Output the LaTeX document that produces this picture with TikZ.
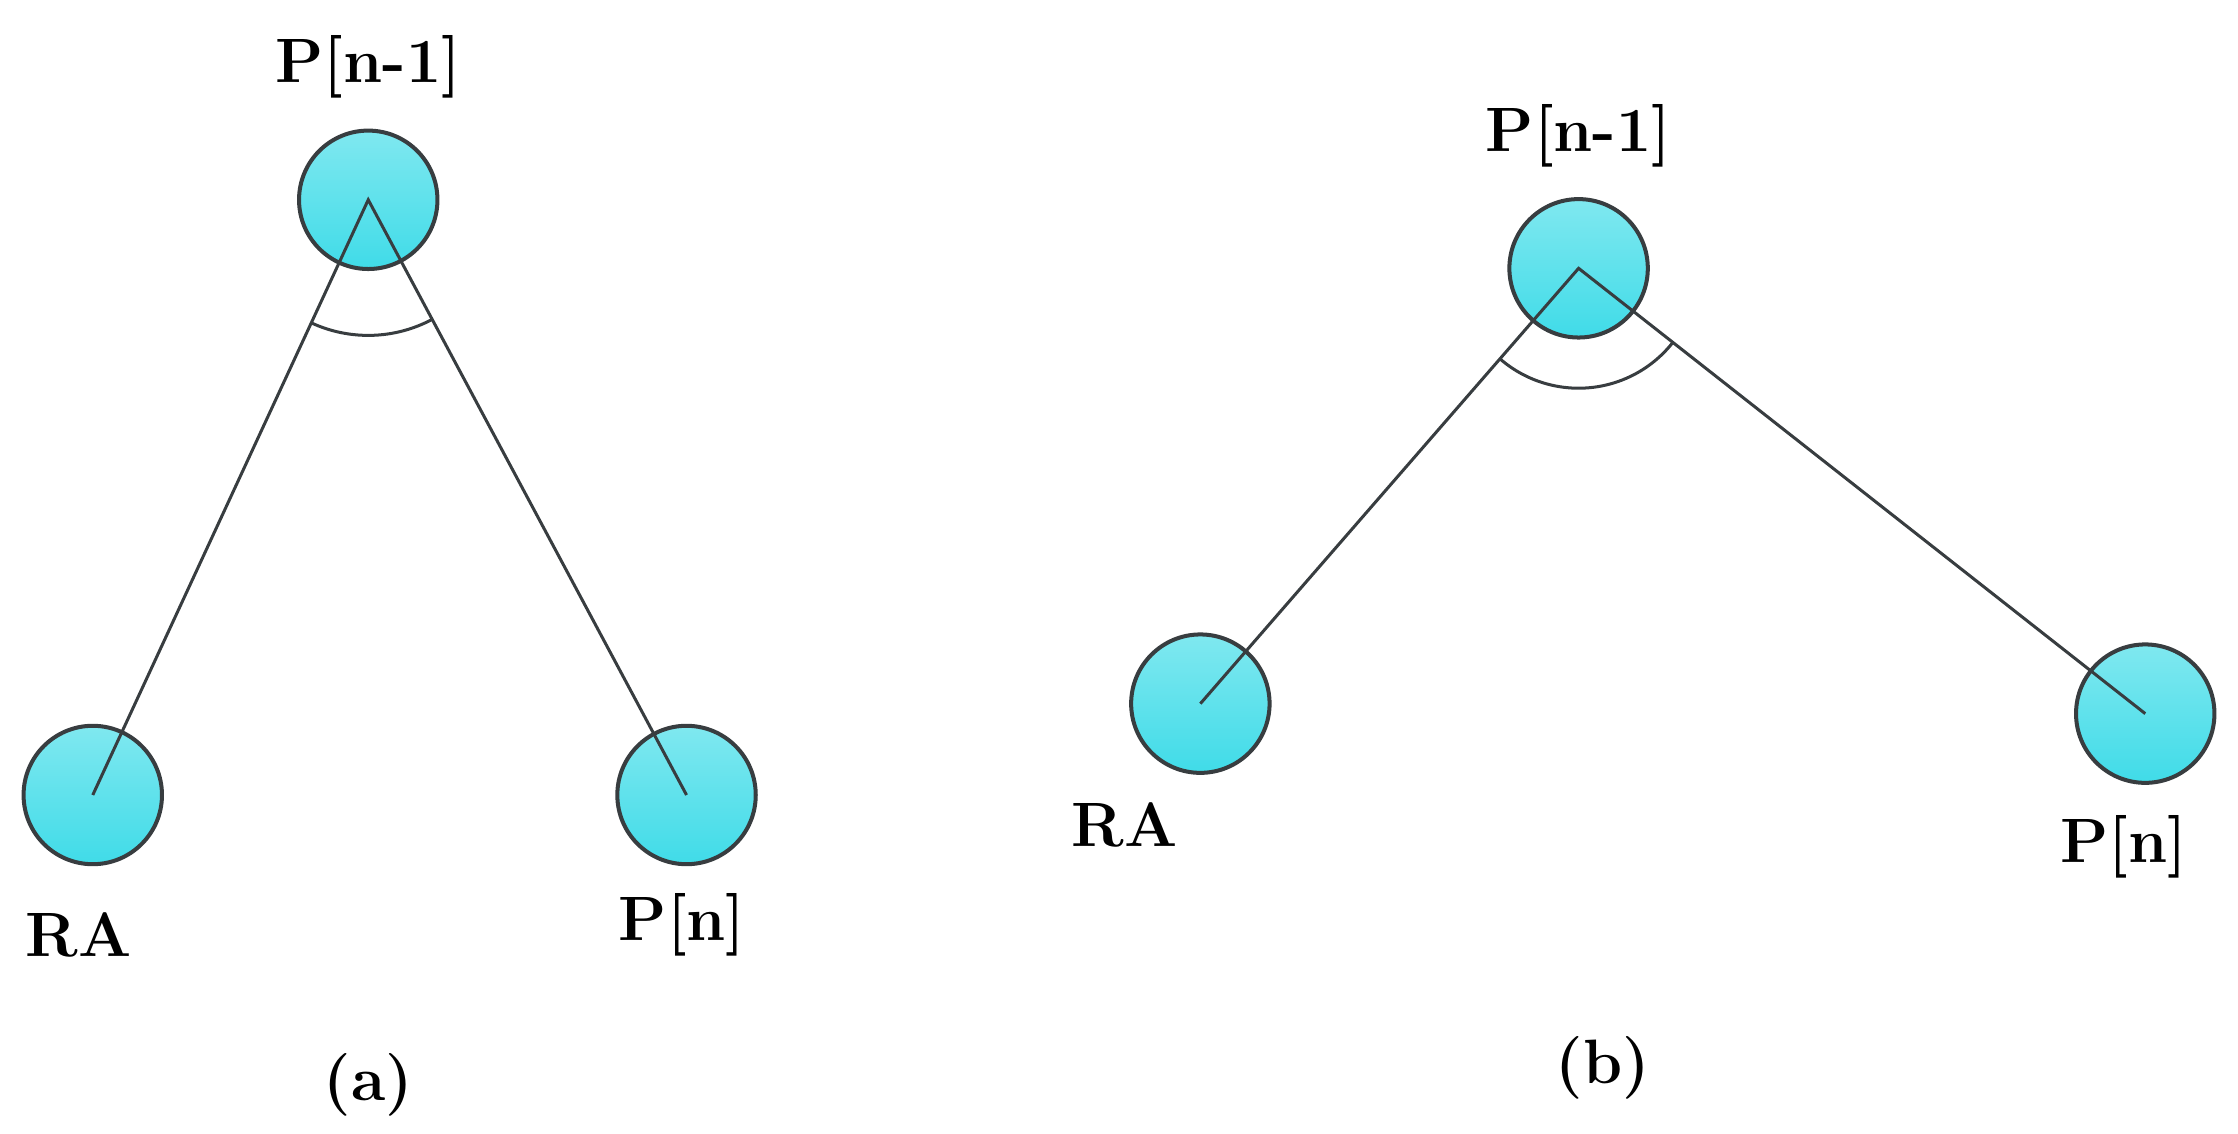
\documentclass[tikz,border=0pt]{standalone}
\usepackage{tikz}
\usetikzlibrary{calc}
\definecolor{cyantop}{rgb}{0.50,0.91,0.94}
\definecolor{cyanbot}{rgb}{0.25,0.86,0.91}
\definecolor{edge}{rgb}{0.22,0.24,0.25}
\tikzset{
  pt/.style={circle,minimum size=1.94cm,inner sep=0pt,draw=edge,line width=1.6pt,top color=cyantop,bottom color=cyanbot},
  lbl/.style={font=\fontsize{25}{30}\selectfont\bfseries},
  leg/.style={draw=edge,line width=1.2pt}
}
\begin{document}
\begin{tikzpicture}[x=0.02cm,y=0.02cm]
  \useasboundingbox (0,0) rectangle (1568,794);
  % (a)
  \node[pt] (a1) at (258,654) {};
  \node[pt] (a0) at (65,237) {};
  \node[pt] (a2) at (481,237) {};
  \draw[leg] (a0.center) -- (a1.center) -- (a2.center);
  \draw[leg] ($(a1.center)+(245.2:95)$) arc (245.2:298.1:95);
  \node[lbl] (la1) at (258,747) {P[n-1]};
  \node[lbl] (la0) at (55,139) {RA};
  \node[lbl] (la2) at (478,146) {P[n]};
  \node[lbl] (capa) at (258,34) {(a)};
  % (b)
  \node[pt] (b1) at (1106,606) {};
  \node[pt] (b0) at (841,301) {};
  \node[pt] (b2) at (1503,294) {};
  \draw[leg] (b0.center) -- (b1.center) -- (b2.center);
  \draw[leg] ($(b1.center)+(229:84)$) arc (229:321.8:84);
  \node[lbl] (lb1) at (1106,699) {P[n-1]};
  \node[lbl] (lb0) at (788,216) {RA};
  \node[lbl] (lb2) at (1488,201) {P[n]};
  \node[lbl] (capb) at (1123,46) {(b)};
\end{tikzpicture}
\end{document}
